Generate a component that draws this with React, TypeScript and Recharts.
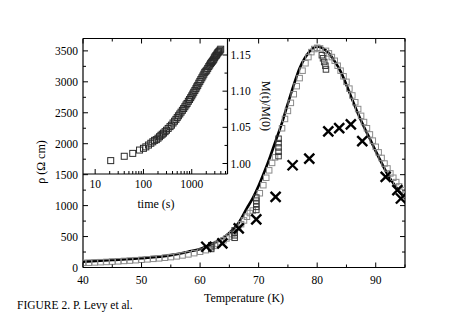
import React from 'react';
import { ComposedChart, ScatterChart, Scatter, Line, XAxis, YAxis, ReferenceLine } from 'recharts';

// main panel: resistivity vs temperature
const lineT = [40, 45, 50, 55, 58, 60, 62, 63.5, 65, 66.5, 68, 69, 70, 71, 72, 73, 74, 75, 76, 77, 78, 79, 80, 81, 82, 83, 84, 85, 86, 87, 88, 89, 90, 91, 92, 93, 94, 95];
const lineRho = [95, 120, 150, 200, 255, 300, 380, 450, 560, 710, 960, 1120, 1320, 1550, 1800, 2070, 2340, 2650, 2950, 3220, 3400, 3520, 3570, 3540, 3460, 3330, 3170, 2950, 2710, 2480, 2270, 2080, 1880, 1690, 1510, 1360, 1230, 1120];

const sqT = [40, 41, 42, 43, 44, 45, 46, 47, 48, 49, 50, 51, 52, 53, 54, 55, 56, 57, 58, 59, 60, 61, 62.5, 63, 63.5, 64, 64.5, 65, 65.5, 66.5, 67, 67.5, 68, 68.5, 69, 70.2, 70.8, 71.3, 71.8, 72.3, 72.8, 74, 74.5, 75, 75.5, 76, 76.5, 77, 77.5, 78, 78.5, 79, 79.5, 80, 80.5, 81.5, 82, 82.5, 83, 83.5, 84, 84.5, 85, 85.5, 86, 86.5, 87, 87.5, 88, 88.5, 89, 89.5, 90, 90.5, 91, 91.5, 92, 92.5, 93, 93.5, 94, 94.5, 95];
const sqRho = [75, 78, 82, 86, 90, 95, 100, 106, 112, 118, 125, 132, 140, 148, 158, 168, 180, 195, 212, 232, 255, 280, 350, 380, 410, 440, 470, 500, 540, 640, 700, 760, 820, 880, 920, 1200, 1330, 1450, 1570, 1690, 1780, 2250, 2400, 2530, 2660, 2800, 2930, 3060, 3180, 3300, 3400, 3480, 3530, 3550, 3540, 3500, 3460, 3400, 3340, 3260, 3180, 3090, 3000, 2890, 2780, 2670, 2560, 2450, 2350, 2250, 2150, 2050, 1950, 1860, 1770, 1680, 1600, 1520, 1450, 1380, 1310, 1250, 1180];

// relaxation stacks at fixed temperature
const stackT = [61.9, 61.9, 61.9, 65.9, 65.9, 65.9, 65.9, 69.6, 69.6, 69.6, 69.6, 69.6, 73.4, 73.4, 73.4, 73.4, 73.4, 80.8, 81, 81.2, 81.4, 81.5];
const stackRho = [300, 330, 360, 480, 520, 560, 600, 930, 980, 1030, 1080, 1130, 1800, 1870, 1940, 2010, 2080, 3430, 3380, 3320, 3260, 3200];

const crossT = [61.06, 63.8, 66.6, 69.6, 72.9, 75.8, 78.65, 81.9, 83.76, 85.75, 87.7, 91.7, 93.7, 94.3];
const crossRho = [335, 390, 632, 777, 1141, 1652, 1760, 2200, 2253, 2312, 2043, 1463, 1249, 1115];

const xTicks = [40, 45, 50, 55, 60, 65, 70, 75, 80, 85, 90, 95];
const yTicks = [0, 250, 500, 750, 1000, 1250, 1500, 1750, 2000, 2250, 2500, 2750, 3000, 3250, 3500];

// inset: M(t)/M(0) vs time
const inTime = [21, 40, 60, 83, 100, 112, 127, 142, 156, 170, 185, 200, 215, 230, 245, 260, 280, 300, 325, 355, 380, 410, 440, 470, 500, 530, 565, 600, 640, 680, 720, 760, 800, 850, 900, 950, 1000, 1050, 1100, 1160, 1220, 1270, 1330, 1400, 1470, 1540, 1620, 1700, 1780, 1860, 1950, 2040, 2140, 2250, 2350, 2450, 2550, 2650, 2750, 2850, 2940, 3030, 3140, 3250, 3350, 3450, 3570, 3700, 3840, 3980];
const inM = [1.004, 1.01, 1.014, 1.0186, 1.021, 1.023, 1.0255, 1.028, 1.03, 1.032, 1.033, 1.035, 1.037, 1.039, 1.0405, 1.042, 1.044, 1.046, 1.0485, 1.051, 1.053, 1.056, 1.0585, 1.061, 1.0635, 1.066, 1.0685, 1.071, 1.0735, 1.076, 1.0785, 1.081, 1.083, 1.086, 1.0885, 1.091, 1.0935, 1.096, 1.0985, 1.101, 1.1035, 1.106, 1.108, 1.111, 1.1135, 1.116, 1.1185, 1.121, 1.1235, 1.126, 1.1275, 1.129, 1.1315, 1.134, 1.136, 1.138, 1.1395, 1.141, 1.1425, 1.144, 1.146, 1.1475, 1.149, 1.15, 1.1515, 1.153, 1.154, 1.155, 1.1565, 1.158];

const inXTicks = [10, 20, 30, 40, 50, 60, 70, 80, 90, 100, 200, 300, 400, 500, 600, 700, 800, 900, 1000, 2000, 3000, 4000, 5000];
const inYTicks = [1.0, 1.025, 1.05, 1.075, 1.1, 1.125, 1.15];

const W = 469;
const H = 327;
const L = 83;
const R = 405;
const TOP = 38.5;
const B = 267.5;
const IR = 227.5;
const IB = 174;
const AX = 30; // space reserved for each axis

const FONT = '"Liberation Serif", "Times New Roman", serif';
const FS = 11.5;

const lineData = lineT.map((t, i) => ({ t, rho: lineRho[i] }));
const sqData = sqT.map((t, i) => ({ t, rho: sqRho[i] }));
const stackData = stackT.map((t, i) => ({ t, rho: stackRho[i] }));
const crossData = crossT.map((t, i) => ({ t, rho: crossRho[i] }));
const insetData = inTime.map((t, i) => ({ t, m: inM[i] }));

const square = (color: string, s = 5.5) => (p: any) => (
  <rect x={p.cx - s / 2} y={p.cy - s / 2} width={s} height={s} fill="none" stroke={color} strokeWidth={1} />
);

const cross = (p: any) => (
  <g stroke="#000" strokeWidth={2.4}>
    <line x1={p.cx - 5} y1={p.cy - 5} x2={p.cx + 5} y2={p.cy + 5} />
    <line x1={p.cx - 5} y1={p.cy + 5} x2={p.cx + 5} y2={p.cy - 5} />
  </g>
);

const BottomTick = (props: any) => {
  const { x, payload } = props;
  const v = payload.value;
  const major = v % 10 === 0;
  const len = major ? 5 : 3;
  return (
    <g>
      <line x1={x} x2={x} y1={B} y2={B - len} stroke="#000" />
      <line x1={x} x2={x} y1={TOP} y2={TOP + len} stroke="#000" />
      {major && v < 95 && (
        <text x={x} y={B + 16} textAnchor="middle" fontFamily={FONT} fontSize={FS} fill="#000">
          {v}
        </text>
      )}
    </g>
  );
};

const LeftTick = (props: any) => {
  const { y, payload } = props;
  const v = payload.value;
  const major = v % 500 === 0;
  const len = major ? 5 : 3;
  return (
    <g>
      <line x1={L} x2={L + len} y1={y} y2={y} stroke="#000" />
      <line x1={R} x2={R - len} y1={y} y2={y} stroke="#000" />
      {major && (
        <text x={L - 5} y={y + 4} textAnchor="end" fontFamily={FONT} fontSize={FS} fill="#000">
          {v}
        </text>
      )}
    </g>
  );
};

const InsetBottomTick = (props: any) => {
  const { x, payload } = props;
  const v = payload.value;
  const major = v === 10 || v === 100 || v === 1000;
  const len = major ? 5 : 3;
  return (
    <g>
      <line x1={x} x2={x} y1={IB} y2={IB - len} stroke="#000" />
      {major && (
        <text x={x} y={IB + 14} textAnchor="middle" fontFamily={FONT} fontSize={FS} fill="#000">
          {v}
        </text>
      )}
    </g>
  );
};

const InsetRightTick = (props: any) => {
  const { y, payload } = props;
  const v = payload.value;
  const k = Math.round(v * 1000);
  const major = k % 50 === 0;
  const len = major ? 5 : 3;
  return (
    <g>
      <line x1={IR} x2={IR - len} y1={y} y2={y} stroke="#000" />
      {major && (
        <text x={IR + 3} y={y + 4} textAnchor="start" fontFamily={FONT} fontSize={FS} fill="#000">
          {v.toFixed(2)}
        </text>
      )}
    </g>
  );
};

export default function App() {
  const layer: React.CSSProperties = { position: 'absolute', left: 0, top: 0 };
  return (
    <div style={{ position: 'absolute', left: 0, top: 0, width: W, height: H, background: '#fff' }}>
      <div style={layer}>
        <ComposedChart width={W} height={H} margin={{ top: TOP, right: W - R, bottom: H - B - AX, left: L - AX }}>
          <XAxis
            dataKey="t"
            type="number"
            domain={[40, 95]}
            ticks={xTicks}
            interval={0}
            height={AX}
            allowDataOverflow
            tickLine={false}
            tick={<BottomTick />}
            axisLine={{ stroke: '#000', strokeWidth: 1.2 }}
          />
          <YAxis
            dataKey="rho"
            type="number"
            domain={[0, 3700]}
            ticks={yTicks}
            interval={0}
            width={AX}
            allowDataOverflow
            tickLine={false}
            tick={<LeftTick />}
            axisLine={{ stroke: '#000', strokeWidth: 1.2 }}
          />
          <ReferenceLine y={3700} stroke="#000" strokeWidth={1.2} />
          <ReferenceLine x={95} stroke="#000" strokeWidth={1.2} />
          <Scatter data={sqData} shape={square('#8a8a8a')} isAnimationActive={false} />
          <Scatter data={stackData} shape={square('#3a3a3a')} isAnimationActive={false} />
          <Line
            data={lineData}
            dataKey="rho"
            type="monotone"
            stroke="#000"
            strokeWidth={2.6}
            dot={false}
            isAnimationActive={false}
          />
          <Scatter data={crossData} shape={cross} isAnimationActive={false} />
        </ComposedChart>
      </div>
      <div style={layer}>
        <ScatterChart width={W} height={H} margin={{ top: TOP, right: W - IR - AX, bottom: H - IB - AX, left: L }}>
          <XAxis
            dataKey="t"
            type="number"
            scale="log"
            domain={[5.6, 5500]}
            ticks={inXTicks}
            interval={0}
            height={AX}
            allowDataOverflow
            tickLine={false}
            tick={<InsetBottomTick />}
            axisLine={{ stroke: '#000', strokeWidth: 1.2 }}
          />
          <YAxis
            dataKey="m"
            type="number"
            orientation="right"
            domain={[0.9855, 1.1728]}
            ticks={inYTicks}
            interval={0}
            width={AX}
            allowDataOverflow
            tickLine={false}
            tick={<InsetRightTick />}
            axisLine={{ stroke: '#000', strokeWidth: 1.2 }}
          />
          <Scatter data={insetData} shape={square('#2a2a2a', 6)} isAnimationActive={false} />
        </ScatterChart>
      </div>
      <svg width={W} height={H} style={layer}>
        <text x={244} y={302} textAnchor="middle" fontFamily={FONT} fontSize={12} fill="#000">
          Temperature (K)
        </text>
        <text x={17} y={309} fontFamily={FONT} fontSize={11.5} fill="#000">
          FIGURE 2. P. Levy et al.
        </text>
        <text x={156} y={208} textAnchor="middle" fontFamily={FONT} fontSize={12} fill="#000">
          time (s)
        </text>
        <text
          x={0}
          y={0}
          transform="translate(45,162) rotate(-90)"
          textAnchor="middle"
          fontFamily={FONT}
          fontSize={12}
          fill="#000"
        >
          ρ (Ω cm)
        </text>
        <text
          x={0}
          y={0}
          transform="translate(262,106) rotate(90)"
          textAnchor="middle"
          fontFamily={FONT}
          fontSize={12}
          fill="#000"
        >
          M(t)/M(0)
        </text>
      </svg>
    </div>
  );
}
